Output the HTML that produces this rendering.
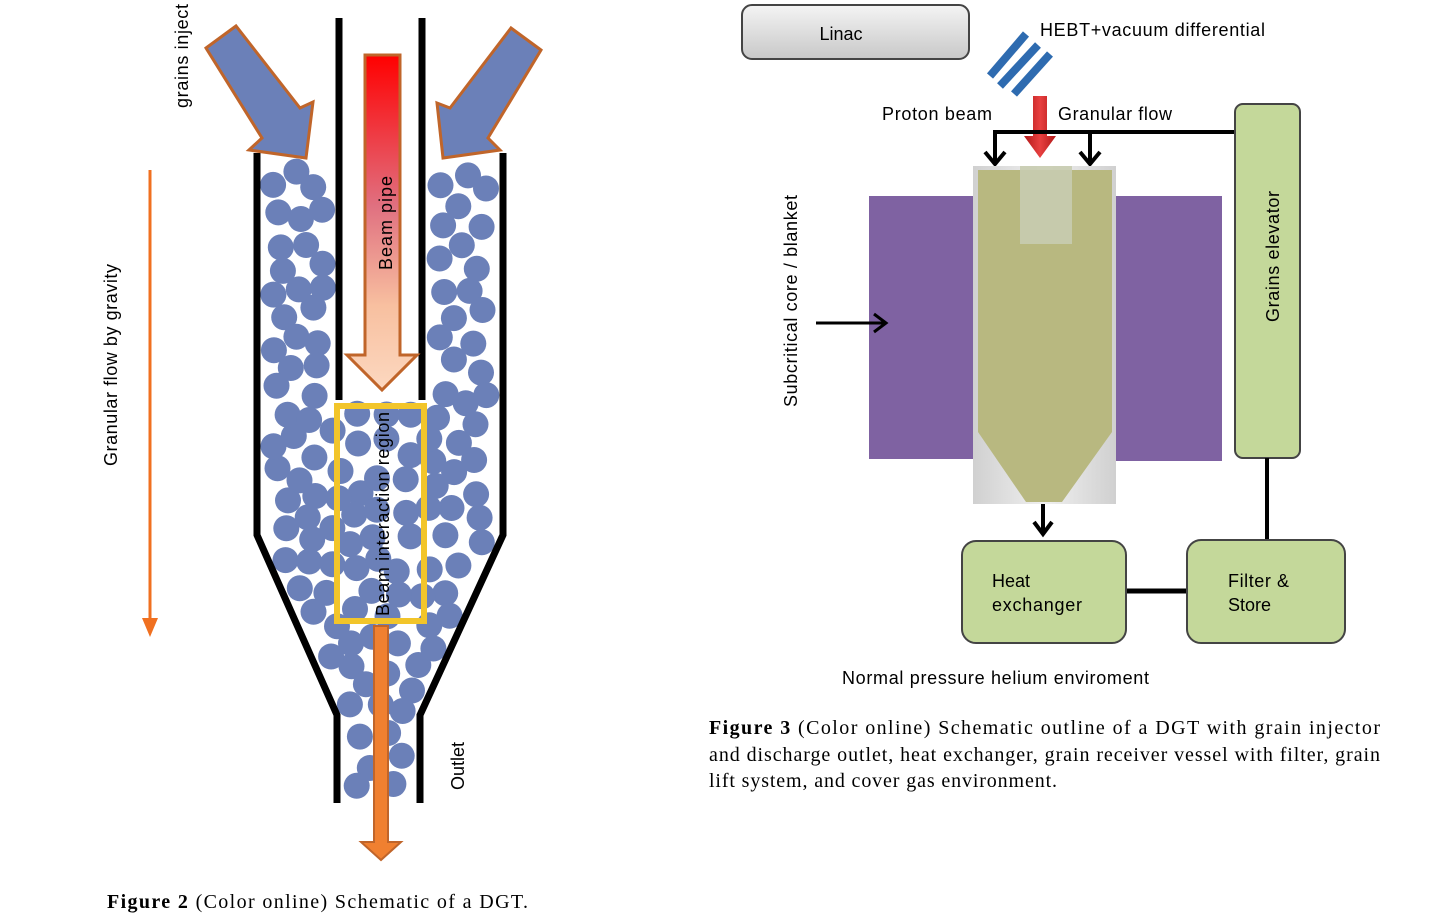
<!DOCTYPE html>
<html><head><meta charset="utf-8"><style>
html,body{margin:0;padding:0;background:#fff;}
svg{display:block;}
.s{font-family:"Liberation Sans",sans-serif;}
.r{font-family:"Liberation Serif",serif;}
</style></head><body>
<svg id="svg" width="1429" height="917" viewBox="0 0 1429 917" xmlns="http://www.w3.org/2000/svg">
<defs>
<linearGradient id="bp" x1="0" y1="0" x2="0" y2="1">
<stop offset="0" stop-color="#ff0000"/><stop offset="0.45" stop-color="#e07080"/><stop offset="0.75" stop-color="#f8c0a0"/><stop offset="1" stop-color="#fcd8c0"/></linearGradient>
<linearGradient id="lin" x1="0" y1="0" x2="0" y2="1"><stop offset="0" stop-color="#f4f4f4"/><stop offset="1" stop-color="#c8c8c8"/></linearGradient>
<linearGradient id="gry" x1="0" y1="0" x2="1" y2="0"><stop offset="0" stop-color="#d0d0d0"/><stop offset="0.5" stop-color="#f0f0f0"/><stop offset="1" stop-color="#d0d0d0"/></linearGradient>
<linearGradient id="red" x1="0" y1="0" x2="1" y2="0"><stop offset="0" stop-color="#b01818"/><stop offset="0.5" stop-color="#e84040"/><stop offset="1" stop-color="#b01818"/></linearGradient>
</defs>
<g id="balls"></g>
<path d="M257,153 V535 L337,715 V803" fill="none" stroke="#000" stroke-width="7"/>
<path d="M503,153 V535 L420,715 V803" fill="none" stroke="#000" stroke-width="7"/>
<line x1="339" y1="18" x2="339" y2="400" stroke="#000" stroke-width="7"/>
<line x1="422" y1="18" x2="422" y2="400" stroke="#000" stroke-width="7"/>
<polygon points="206,48 236,26 300,108 313,102 306,158 249,150 262,138" fill="#6b80b8" stroke="#c0652a" stroke-width="3"/>
<polygon points="541,50 511,28 450,108 437,103 443,158 500,150 488,138" fill="#6b80b8" stroke="#c0652a" stroke-width="3"/>
<polygon points="365,55 400,55 400,355 417,355 382,390 347,355 365,355" fill="url(#bp)" stroke="#c0652a" stroke-width="3"/>
<text class="s" transform="translate(392,270) rotate(-90)" font-size="18" textLength="94">Beam pipe</text>
<rect x="337" y="406" width="87" height="215" fill="none" stroke="#f2c52a" stroke-width="6"/>
<text class="s" transform="translate(389,616) rotate(-90)" font-size="18" textLength="204">Beam interaction region</text>
<polygon points="374,626 388,626 388,842 401,842 381,860 361,842 374,842" fill="#f08030" stroke="#c0652a" stroke-width="2"/>
<text class="s" transform="translate(464,790) rotate(-90)" font-size="18">Outlet</text>
<text class="s" transform="translate(188,108) rotate(-90)" font-size="18" textLength="104">grains inject</text>
<text class="s" transform="translate(117,466) rotate(-90)" font-size="18" textLength="202">Granular flow by gravity</text>
<line x1="150" y1="170" x2="150" y2="622" stroke="#f07020" stroke-width="3"/>
<polygon points="142,618 158,618 150,637" fill="#f07020"/>
<text class="r" x="107" y="908" font-size="20" textLength="421" lengthAdjust="spacing"><tspan font-weight="bold">Figure 2</tspan>    (Color online) Schematic of a DGT.</text>

<rect x="742" y="5" width="227" height="54" rx="10" fill="url(#lin)" stroke="#444" stroke-width="2"/>
<text class="s" x="841" y="40" font-size="18" text-anchor="middle">Linac</text>
<g stroke="#2e6bb0" stroke-width="8" stroke-linecap="butt">
<line x1="990" y1="76" x2="1026" y2="34"/><line x1="1000" y1="86" x2="1038" y2="45"/><line x1="1014" y1="94" x2="1050" y2="54"/></g>
<text class="s" x="1040" y="36" font-size="18" textLength="225">HEBT+vacuum differential</text>
<text class="s" x="882" y="120" font-size="18" textLength="110">Proton beam</text>
<text class="s" x="1058" y="120" font-size="18" textLength="114">Granular flow</text>
<polygon points="1033,96 1047,96 1047,136 1056,136 1040,158 1024,136 1033,136" fill="url(#red)"/>
<polyline points="995,162 995,132 1236,132" fill="none" stroke="#000" stroke-width="4"/>
<line x1="1090" y1="132" x2="1090" y2="162" stroke="#000" stroke-width="4"/>
<polyline points="985,152 995,164 1005,152" fill="none" stroke="#000" stroke-width="4"/>
<polyline points="1080,152 1090,164 1100,152" fill="none" stroke="#000" stroke-width="4"/>
<rect x="869" y="196" width="105" height="263" fill="#7f62a2"/>
<rect x="1115" y="196" width="107" height="265" fill="#7f62a2"/>
<rect x="973" y="166" width="143" height="338" fill="url(#gry)"/>
<polygon points="978,170 1112,170 1112,432 1062,502 1026,502 978,432" fill="#b8b880"/>
<rect x="1020" y="166" width="52" height="78" fill="#c8ccb0" opacity="0.9"/>
<rect x="1235" y="104" width="65" height="354" rx="8" fill="#c4d89a" stroke="#444" stroke-width="2"/>
<text class="s" transform="translate(1279,322) rotate(-90)" font-size="18" textLength="131">Grains elevator</text>
<text class="s" transform="translate(797,407) rotate(-90)" font-size="18" textLength="212">Subcritical core / blanket</text>
<line x1="816" y1="323" x2="885" y2="323" stroke="#000" stroke-width="3"/>
<polyline points="874,314 886,323 874,332" fill="none" stroke="#000" stroke-width="3"/>
<line x1="1043" y1="504" x2="1043" y2="532" stroke="#000" stroke-width="4"/>
<polyline points="1034,522 1043,534 1052,522" fill="none" stroke="#000" stroke-width="4"/>
<line x1="1267" y1="458" x2="1267" y2="541" stroke="#000" stroke-width="4"/>
<line x1="1126" y1="591" x2="1187" y2="591" stroke="#000" stroke-width="5"/>
<rect x="962" y="541" width="164" height="102" rx="14" fill="#c4d89a" stroke="#444" stroke-width="2"/>
<rect x="1187" y="540" width="158" height="103" rx="14" fill="#c4d89a" stroke="#444" stroke-width="2"/>
<text class="s" x="992" y="587" font-size="18">Heat</text>
<text class="s" x="992" y="611" font-size="18" textLength="90">exchanger</text>
<text class="s" x="1228" y="587" font-size="18" textLength="61">Filter &amp;</text>
<text class="s" x="1228" y="611" font-size="18">Store</text>
<text class="s" x="842" y="684" font-size="18" textLength="307">Normal pressure helium enviroment</text>
<text class="r" x="709" y="734" font-size="20" textLength="671" lengthAdjust="spacing"><tspan font-weight="bold">Figure 3</tspan>    (Color online) Schematic outline of a DGT with grain injector</text>
<text class="r" x="709" y="761" font-size="20" textLength="671" lengthAdjust="spacing">and discharge outlet, heat exchanger, grain receiver vessel with filter, grain</text>
<text class="r" x="709" y="787" font-size="20" textLength="348" lengthAdjust="spacing">lift system, and cover gas environment.</text>
</svg>
<script>
(function(){
var g=document.getElementById('balls');var s=12345;function rnd(){s=(s*16807)%2147483647;return s/2147483647;}
function inside(x,y,r){
 if(y<160+r-3||y>800-r)return false;
 var L,R;
 if(y<535){L=257;R=503;}else if(y<715){var t=(y-535)/180;L=257+80*t;R=503-83*t;}else{L=337;R=420;}
 L+=4+r;R-=4+r;if(x<L||x>R)return false;
 if(y<400+r&&x>339-4-r&&x<422+4+r)return false;
 return true;}
var pts=[],r=13;
for(var i=0;i<200000&&pts.length<400;i++){var x=257+rnd()*246,y=155+rnd()*650;if(!inside(x,y,r-1))continue;var ok=true;for(var j=0;j<pts.length;j++){var dx=pts[j][0]-x,dy=pts[j][1]-y;if(dx*dx+dy*dy<22*22){ok=false;break;}}if(ok)pts.push([x,y]);}
var h='';pts.forEach(function(p){h+='<circle cx="'+p[0].toFixed(1)+'" cy="'+p[1].toFixed(1)+'" r="13" fill="#6b80b8"/>';});
g.innerHTML=h;})();
</script>
</body></html>
